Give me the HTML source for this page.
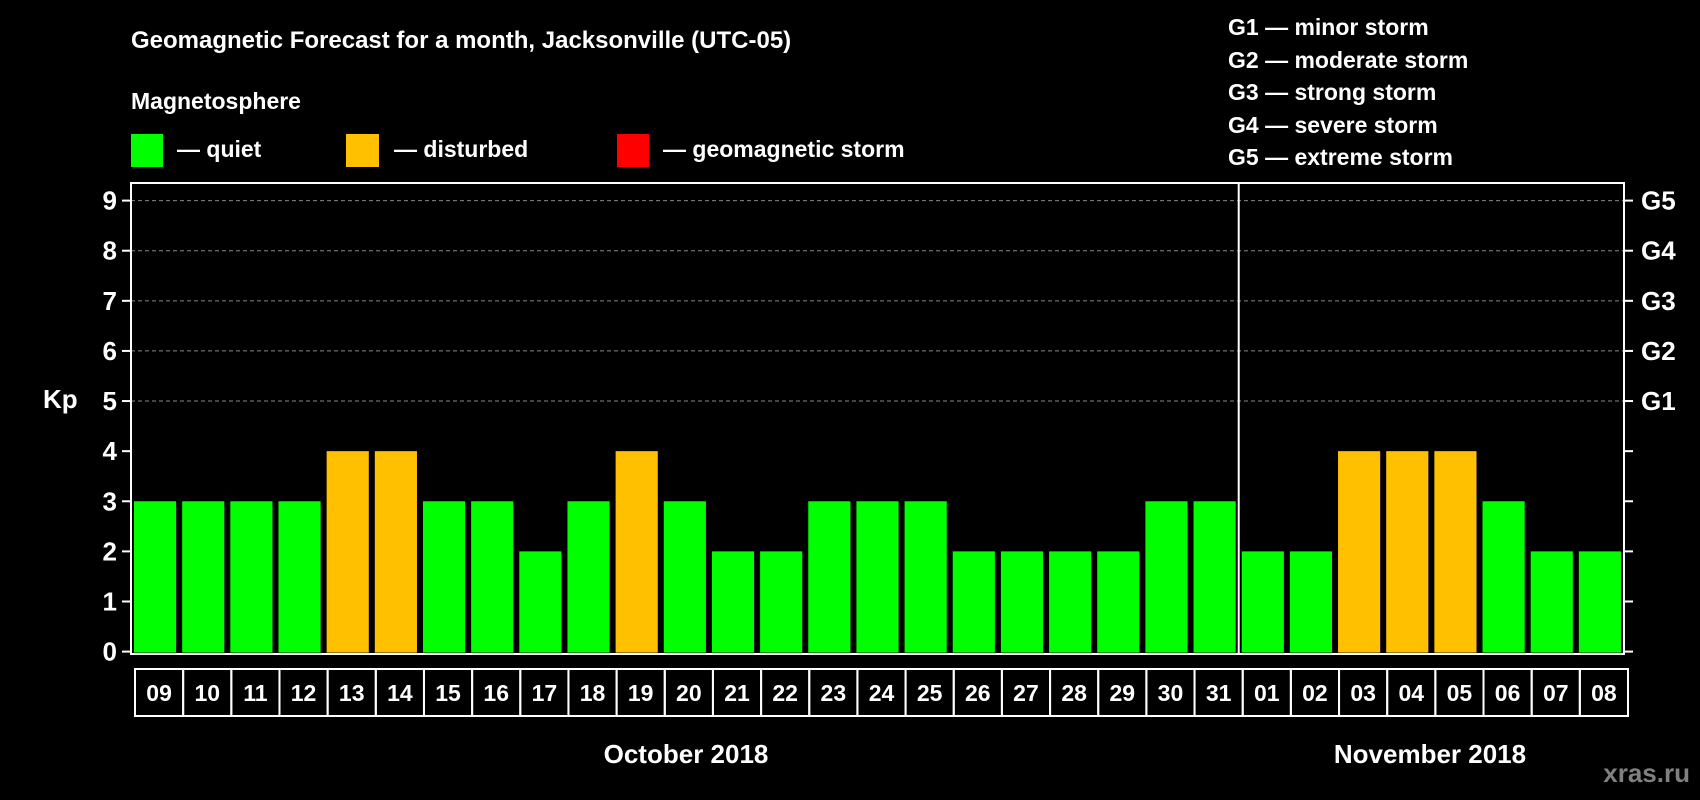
<!DOCTYPE html>
<html><head><meta charset="utf-8"><style>
html,body{margin:0;padding:0;background:#000;width:1700px;height:800px;overflow:hidden}
svg{display:block;font-family:"Liberation Sans",Arial,sans-serif;font-weight:bold}
</style></head><body>
<svg id="chart" width="1700" height="800" xmlns="http://www.w3.org/2000/svg">
<text x="131" y="48" fill="#fff" font-size="24">Geomagnetic Forecast for a month, Jacksonville (UTC-05)</text>
<text x="131" y="109" fill="#fff" font-size="23">Magnetosphere</text>
<rect x="131" y="134" width="32" height="33" fill="#00ff00"/>
<text x="177" y="157" fill="#fff" font-size="23">— quiet</text>
<rect x="346" y="134" width="33" height="33" fill="#ffc000"/>
<text x="394" y="157" fill="#fff" font-size="23">— disturbed</text>
<rect x="617" y="134" width="32" height="33" fill="#ff0000"/>
<text x="663" y="157" fill="#fff" font-size="23">— geomagnetic storm</text>
<g fill="#fff" font-size="23">
<text x="1228" y="35">G1 — minor storm</text>
<text x="1228" y="68">G2 — moderate storm</text>
<text x="1228" y="100">G3 — strong storm</text>
<text x="1228" y="133">G4 — severe storm</text>
<text x="1228" y="165">G5 — extreme storm</text>
</g>
<text x="43" y="408" fill="#fff" font-size="26">Kp</text>
<text x="686" y="763" fill="#fff" font-size="26" text-anchor="middle">October 2018</text>
<text x="1430" y="763" fill="#fff" font-size="26" text-anchor="middle">November 2018</text>
<text x="1690" y="782" fill="#808080" font-size="26" text-anchor="end">xras.ru</text>
<g id="plot"></g>
</svg>
<script>
const days = ["09","10","11","12","13","14","15","16","17","18","19","20","21","22","23","24","25","26","27","28","29","30","31","01","02","03","04","05","06","07","08"];
const kpValues = [3,3,3,3,4,4,3,3,2,3,4,3,2,2,3,3,3,2,2,2,2,3,3,2,2,4,4,4,3,2,2];
const yTicks = [0,1,2,3,4,5,6,7,8,9];
const gLabels = ["G1","G2","G3","G4","G5"];
const gLevels = [5,6,7,8,9];
const monthSplitIndex = 23;

const NS="http://www.w3.org/2000/svg";
const L=131,R=1624,T=183,B=654,Y0=651.6,Y9=200.6;
const step=(R-L)/days.length;
const y=v=>Y0+(Y9-Y0)*v/9;
const x=i=>L+i*step;
const g=document.getElementById('plot');
function mk(tag,a){const e=document.createElementNS(NS,tag);for(const k in a)e.setAttribute(k,a[k]);g.appendChild(e);return e;}

yTicks.forEach(t=>{
  if(t>=5){const l=mk('line',{x1:L,x2:R,y1:y(t),y2:y(t),stroke:'#888','stroke-dasharray':'4,3','stroke-width':1});
  
  }
  const a=mk('line',{x1:L-9,x2:L,y1:y(t),y2:y(t),stroke:'#fff','stroke-width':2});
  
  
  const b=mk('line',{x1:R,x2:R+9,y1:y(t),y2:y(t),stroke:'#fff','stroke-width':2});
  
  
  const tx=mk('text',{x:117,y:y(t)+9,fill:'#fff','font-size':26,'text-anchor':'end'});
  tx.textContent=t;
  
  
});
gLabels.forEach((s,i)=>{
  const tx=mk('text',{x:1641,y:y(gLevels[i])+9,fill:'#fff','font-size':26});
  tx.textContent=s;
  
  
});
kpValues.forEach((v,i)=>{
  const r=mk('rect',{x:x(i)+3,y:y(v),width:step-6,height:Y0-y(v)+1,fill:v>=5?'#ff0000':(v>=4?'#ffc000':'#00ff00')});
  
  
  const c=mk('rect',{x:x(i)+4,y:B+15,width:step,height:47,fill:'none',stroke:'#fff','stroke-width':2});
  
  
  const tx=mk('text',{x:x(i)+step/2+4,y:B+47,fill:'#fff','font-size':23,'text-anchor':'middle'});
  tx.textContent=days[i];
  
  
});
const d=mk('line',{x1:x(monthSplitIndex),x2:x(monthSplitIndex),y1:T,y2:B,stroke:'#fff','stroke-width':2});


const f=mk('rect',{x:L,y:T,width:R-L,height:B-T,fill:'none',stroke:'#fff','stroke-width':2});


</script>
</body></html>
